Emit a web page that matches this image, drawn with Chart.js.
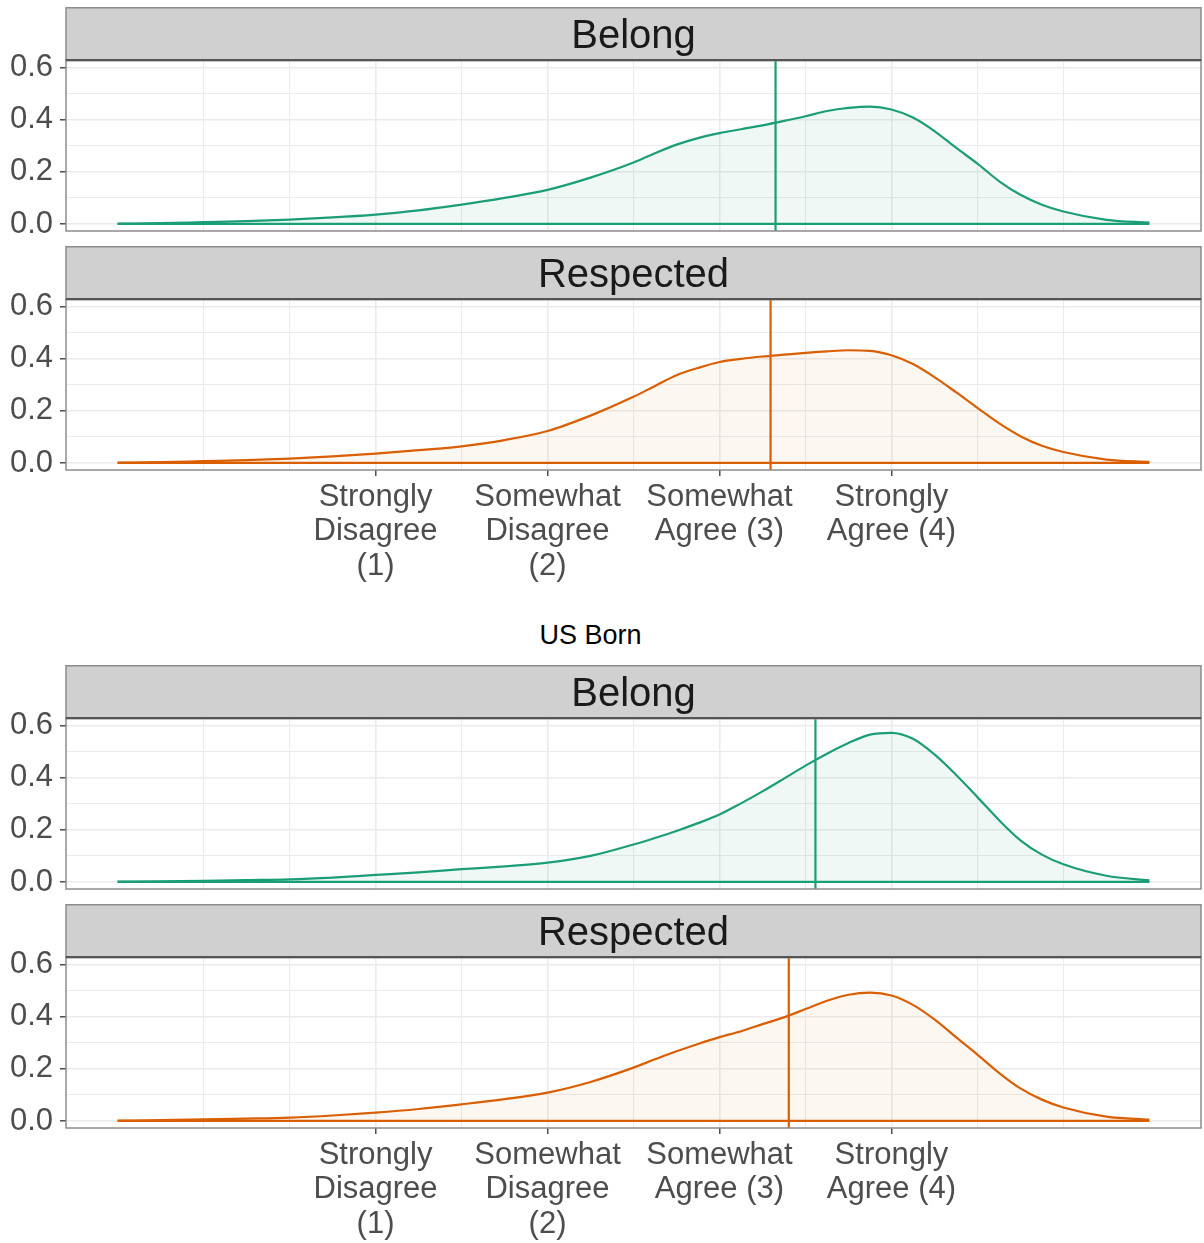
<!DOCTYPE html>
<html>
<head>
<meta charset="utf-8">
<title>Belong / Respected</title>
<script src="https://cdn.jsdelivr.net/npm/chart.js@4.4.1/dist/chart.umd.min.js"></script>
<style>
  body { margin: 0; background: #fff; width: 1204px; height: 1243px; position: relative; overflow: hidden;
         font-family: "Liberation Sans", Arial, sans-serif; }
  canvas { position: absolute; left: 0; }
  #groupTitle { position: absolute; left: 0; width: 1181px; top: 620px; line-height: 30px;
                text-align: center; font-size: 27px; color: #000; }
</style>
</head>
<body>
<canvas id="belongA" width="1204" height="238" style="top:7px"></canvas>
<canvas id="respectedA" width="1204" height="339" style="top:246px"></canvas>
<div id="groupTitle">US Born</div>
<canvas id="belongB" width="1204" height="238" style="top:665px"></canvas>
<canvas id="respectedB" width="1204" height="339" style="top:904px"></canvas>
<script>
// density evaluation points on the 1-4 agreement scale (finer around the peaks)
const densityX = [-0.5, -0.25, 0, 0.25, 0.5, 0.75, 1, 1.25, 1.5, 1.75, 2, 2.25, 2.5,
                  2.625, 2.75, 2.875, 3, 3.125, 3.25, 3.375, 3.5, 3.625, 3.75, 3.875,
                  4, 4.125, 4.25, 4.375, 4.5, 4.625, 4.75, 4.875, 5, 5.25, 5.5];

// first group
const belongA = [0.001, 0.003, 0.007, 0.011, 0.017, 0.025, 0.036, 0.052, 0.074, 0.100, 0.131, 0.178, 0.236,
                 0.272, 0.305, 0.330, 0.349, 0.364, 0.379, 0.396, 0.414, 0.434, 0.446, 0.451,
                 0.440, 0.409, 0.357, 0.293, 0.232, 0.165, 0.112, 0.074, 0.048, 0.016, 0.005];
const respectedA = [0.001, 0.003, 0.007, 0.011, 0.017, 0.025, 0.036, 0.049, 0.064, 0.088, 0.123, 0.182, 0.254,
                    0.296, 0.337, 0.365, 0.388, 0.400, 0.409, 0.416, 0.423, 0.429, 0.433, 0.431,
                    0.414, 0.380, 0.330, 0.272, 0.212, 0.153, 0.103, 0.066, 0.042, 0.013, 0.004];
const belongMeanA = 3.326;
const respectedMeanA = 3.297;

// US born
const belongB = [0.001, 0.002, 0.004, 0.007, 0.010, 0.017, 0.027, 0.037, 0.049, 0.060, 0.074, 0.100, 0.144,
                 0.169, 0.196, 0.226, 0.259, 0.302, 0.348, 0.397, 0.447, 0.493, 0.534, 0.566,
                 0.573, 0.550, 0.490, 0.412, 0.326, 0.238, 0.160, 0.105, 0.068, 0.024, 0.006];
const respectedB = [0.001, 0.003, 0.006, 0.009, 0.013, 0.021, 0.032, 0.046, 0.064, 0.084, 0.109, 0.150, 0.205,
                    0.237, 0.268, 0.296, 0.322, 0.345, 0.372, 0.398, 0.430, 0.462, 0.485, 0.493,
                    0.482, 0.446, 0.390, 0.322, 0.255, 0.185, 0.125, 0.082, 0.052, 0.017, 0.005];
const belongMeanB = 3.558;
const respectedMeanB = 3.403;

// axes
const xGrid = [0, 0.5, 1, 1.5, 2, 2.5, 3, 3.5, 4, 4.5, 5];
const xTickLabels = {
  1: ['Strongly', 'Disagree', '(1)'],
  2: ['Somewhat', 'Disagree', '(2)'],
  3: ['Somewhat', 'Agree (3)'],
  4: ['Strongly', 'Agree (4)']
};
const yGrid = [0, 0.1, 0.2, 0.3, 0.4, 0.5, 0.6];
const yTickLabels = { 0: '0.0', 0.2: '0.2', 0.4: '0.4', 0.6: '0.6' };

const X_MIN = -0.8, X_MAX = 5.8;
const Y_MIN = -0.027, Y_MAX = 0.63;
const GREEN = '#1B9E77', GREEN_FILL = 'rgba(27,158,119,0.07)';
const ORANGE = '#D95F02', ORANGE_FILL = 'rgba(217,95,2,0.05)';
const FONT = '"Liberation Sans", Arial, sans-serif';
const STRIP_H = 53;

// grey facet strip above the panel, plus the panel frame
const stripPlugin = {
  id: 'strip',
  afterDraw(chart, args, opts) {
    const { ctx, chartArea: a } = chart;
    const top = a.top - STRIP_H;
    ctx.save();
    ctx.fillStyle = '#D0D0D0';
    ctx.fillRect(a.left, top, a.right - a.left, STRIP_H);
    ctx.strokeStyle = '#8C8C8C';
    ctx.lineWidth = 1.5;
    ctx.strokeRect(a.left, top + 0.75, a.right - a.left, STRIP_H);
    ctx.strokeRect(a.left, a.top, a.right - a.left, a.bottom - a.top);
    ctx.strokeStyle = '#555555';
    ctx.lineWidth = 2.2;
    ctx.beginPath();
    ctx.moveTo(a.left, a.top);
    ctx.lineTo(a.right, a.top);
    ctx.stroke();
    ctx.fillStyle = '#1A1A1A';
    ctx.font = '40px ' + FONT;
    ctx.textAlign = 'center';
    ctx.textBaseline = 'alphabetic';
    ctx.fillText(opts.text, (a.left + a.right) / 2, top + 41);
    ctx.restore();
  }
};

const isMajorX = v => Number.isInteger(v) && v >= 1 && v <= 4;
const isMajorY = v => yTickLabels[v] !== undefined;

function makePanel(id, values, mean, color, fillColor, stripText, showX) {
  const curve = densityX.map((x, i) => ({ x: x, y: values[i] }));
  const baseline = [{ x: densityX[0], y: 0 }, { x: densityX[densityX.length - 1], y: 0 }];
  const meanLine = [{ x: mean, y: Y_MIN }, { x: mean, y: Y_MAX }];

  return new Chart(document.getElementById(id), {
    type: 'line',
    data: {
      datasets: [
        { data: curve, borderColor: color, backgroundColor: fillColor, fill: 'origin',
          borderWidth: 2.2, pointRadius: 0, cubicInterpolationMode: 'monotone' },
        { data: baseline, borderColor: color, borderWidth: 2.2, pointRadius: 0, fill: false },
        { data: meanLine, borderColor: color, borderWidth: 2.2, pointRadius: 0, fill: false }
      ]
    },
    options: {
      responsive: false,
      animation: false,
      events: [],
      // top panels keep a little room below so the "0.0" label is not cut
      layout: { padding: { top: STRIP_H, right: 3, left: 0, bottom: showX ? 0 : 14 } },
      plugins: {
        legend: { display: false },
        tooltip: { enabled: false },
        strip: { text: stripText }
      },
      scales: {
        x: {
          type: 'linear',
          min: X_MIN,
          max: X_MAX,
          afterBuildTicks: s => { s.ticks = xGrid.map(v => ({ value: v })); },
          afterFit: s => { s.height = showX ? 115 : 0; s.paddingLeft = 0; s.paddingRight = 0; },
          border: { display: false },
          grid: {
            color: '#EBEBEB',
            lineWidth: c => isMajorX(c.tick.value) ? 1.6 : 1.1,
            drawTicks: showX,
            tickLength: 6,
            tickWidth: 1.3,
            tickColor: c => isMajorX(c.tick.value) ? '#333333' : 'rgba(0,0,0,0)'
          },
          ticks: {
            display: showX,
            autoSkip: false,
            maxRotation: 0,
            minRotation: 0,
            padding: 4,
            color: '#4D4D4D',
            font: { family: FONT, size: 31, lineHeight: 1.11 },
            callback: v => xTickLabels[v] || ''
          }
        },
        y: {
          min: Y_MIN,
          max: Y_MAX,
          afterBuildTicks: s => { s.ticks = yGrid.map(v => ({ value: v })); },
          afterFit: s => { s.width = 66; s.paddingTop = 0; s.paddingBottom = 0; },
          border: { display: false },
          grid: {
            color: '#EBEBEB',
            lineWidth: c => isMajorY(c.tick.value) ? 1.6 : 1.1,
            tickLength: 6,
            tickWidth: 1.3,
            tickColor: c => isMajorY(c.tick.value) ? '#333333' : 'rgba(0,0,0,0)'
          },
          ticks: {
            autoSkip: false,
            padding: 7,
            color: '#4D4D4D',
            font: { family: FONT, size: 31 },
            callback: v => yTickLabels[v] || ''
          }
        }
      }
    },
    plugins: [stripPlugin]
  });
}

makePanel('belongA', belongA, belongMeanA, GREEN, GREEN_FILL, 'Belong', false);
makePanel('respectedA', respectedA, respectedMeanA, ORANGE, ORANGE_FILL, 'Respected', true);
makePanel('belongB', belongB, belongMeanB, GREEN, GREEN_FILL, 'Belong', false);
makePanel('respectedB', respectedB, respectedMeanB, ORANGE, ORANGE_FILL, 'Respected', true);
</script>
</body>
</html>
